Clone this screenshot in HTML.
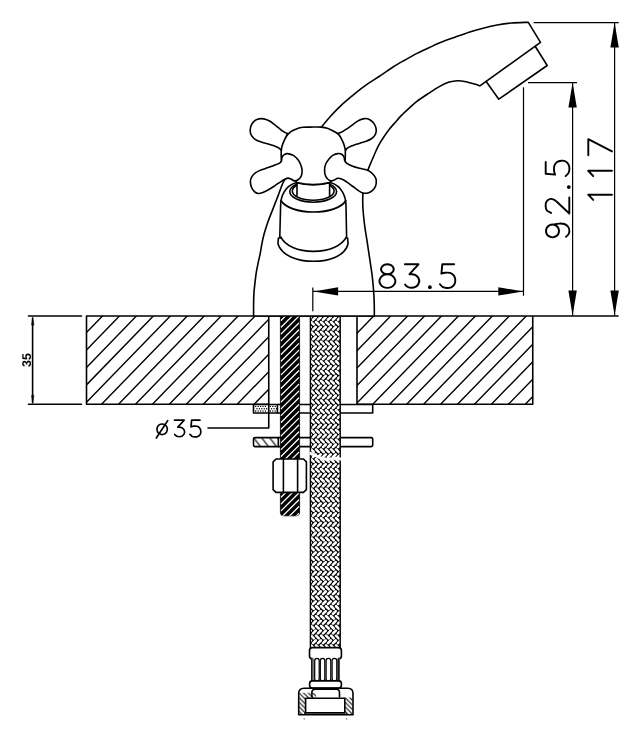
<!DOCTYPE html>
<html><head><meta charset="utf-8"><style>
html,body{margin:0;padding:0;background:#fff;width:641px;height:742px;overflow:hidden}
svg{display:block} text{-webkit-font-smoothing:antialiased;text-rendering:geometricPrecision}
</style></head><body><svg width="641" height="742" viewBox="0 0 641 742"><defs><clipPath id="cL"><rect x="86.5" y="316" width="182.25" height="88.25"/></clipPath><clipPath id="cR"><rect x="357" y="316" width="175.75" height="88.25"/></clipPath><pattern id="rod" patternUnits="userSpaceOnUse" x="280.3" y="316" width="20" height="6.8"><rect width="20" height="6.8" fill="#000"/><path d="M0.9,-2.90L18.4,-20.40M0.9,3.90L18.4,-13.60M0.9,10.70L18.4,-6.80M0.9,17.50L18.4,0.00M0.9,24.30L18.4,6.80M0.9,31.10L18.4,13.60M0.9,37.90L18.4,20.40" stroke="#fff" stroke-width="1.45" stroke-linecap="round"/></pattern><pattern id="hb" patternUnits="userSpaceOnUse" x="310.4" y="316" width="5" height="9.8"><rect width="5" height="9.8" fill="#fff"/><path d="M-15.00,-9.80L-7.65,-2.45M-7.65,-7.35L-15.00,0.00M-15.00,0.00L-7.65,7.35M-7.65,2.45L-15.00,9.80M-15.00,9.80L-7.65,17.15M-7.65,12.25L-15.00,19.60M-10.00,-9.80L-2.65,-2.45M-2.65,-7.35L-10.00,0.00M-10.00,0.00L-2.65,7.35M-2.65,2.45L-10.00,9.80M-10.00,9.80L-2.65,17.15M-2.65,12.25L-10.00,19.60M-5.00,-9.80L2.35,-2.45M2.35,-7.35L-5.00,0.00M-5.00,0.00L2.35,7.35M2.35,2.45L-5.00,9.80M-5.00,9.80L2.35,17.15M2.35,12.25L-5.00,19.60M0.00,-9.80L7.35,-2.45M7.35,-7.35L0.00,0.00M0.00,0.00L7.35,7.35M7.35,2.45L0.00,9.80M0.00,9.80L7.35,17.15M7.35,12.25L0.00,19.60M5.00,-9.80L12.35,-2.45M12.35,-7.35L5.00,0.00M5.00,0.00L12.35,7.35M12.35,2.45L5.00,9.80M5.00,9.80L12.35,17.15M12.35,12.25L5.00,19.60M10.00,-9.80L17.35,-2.45M17.35,-7.35L10.00,0.00M10.00,0.00L17.35,7.35M17.35,2.45L10.00,9.80M10.00,9.80L17.35,17.15M17.35,12.25L10.00,19.60M15.00,-9.80L22.35,-2.45M22.35,-7.35L15.00,0.00M15.00,0.00L22.35,7.35M22.35,2.45L15.00,9.80M15.00,9.80L22.35,17.15M22.35,12.25L15.00,19.60" stroke="#000" stroke-width="1.05"/></pattern><pattern id="dh2" patternUnits="userSpaceOnUse" x="253.5" y="437.5" width="8" height="10.4"><path d="M0,0L8,10.4M-8,0L0,10.4M8,0L16,10.4" stroke="#000" stroke-width="1.1"/></pattern><pattern id="dh3" patternUnits="userSpaceOnUse" x="298.7" y="688" width="4.6" height="4.6"><path d="M-1,-1L5.6,5.6M-1,3.6L1,5.6M3.6,-1L5.6,1" stroke="#000" stroke-width="1.05"/></pattern><pattern id="dh" patternUnits="userSpaceOnUse" width="5" height="5"><path d="M-1,1L1,-1M0,5L5,0M4,6L6,4" stroke="#000" stroke-width="1"/></pattern><pattern id="dots" patternUnits="userSpaceOnUse" x="254.6" y="405.6" width="2.6" height="2.5"><rect width="2.6" height="2.5" fill="#fff"/><circle cx="1.3" cy="1.25" r="0.72" fill="#000"/></pattern></defs><g fill="none" stroke="#000" stroke-width="1.6" stroke-linejoin="round" stroke-linecap="round"><path clip-path="url(#cL)" stroke-width="1.4" d="M-186.50,264.50L-436.50,522.00M-169.55,264.50L-419.55,522.00M-152.60,264.50L-402.60,522.00M-135.65,264.50L-385.65,522.00M-118.70,264.50L-368.70,522.00M-101.75,264.50L-351.75,522.00M-84.80,264.50L-334.80,522.00M-67.85,264.50L-317.85,522.00M-50.90,264.50L-300.90,522.00M-33.95,264.50L-283.95,522.00M-17.00,264.50L-267.00,522.00M-0.05,264.50L-250.05,522.00M16.90,264.50L-233.10,522.00M33.85,264.50L-216.15,522.00M50.80,264.50L-199.20,522.00M67.75,264.50L-182.25,522.00M84.70,264.50L-165.30,522.00M101.65,264.50L-148.35,522.00M118.60,264.50L-131.40,522.00M135.55,264.50L-114.45,522.00M152.50,264.50L-97.50,522.00M169.45,264.50L-80.55,522.00M186.40,264.50L-63.60,522.00M203.35,264.50L-46.65,522.00M220.30,264.50L-29.70,522.00M237.25,264.50L-12.75,522.00M254.20,264.50L4.20,522.00M271.15,264.50L21.15,522.00M288.10,264.50L38.10,522.00M305.05,264.50L55.05,522.00M322.00,264.50L72.00,522.00M338.95,264.50L88.95,522.00M355.90,264.50L105.90,522.00M372.85,264.50L122.85,522.00M389.80,264.50L139.80,522.00M406.75,264.50L156.75,522.00M423.70,264.50L173.70,522.00M440.65,264.50L190.65,522.00M457.60,264.50L207.60,522.00M474.55,264.50L224.55,522.00M491.50,264.50L241.50,522.00M508.45,264.50L258.45,522.00M525.40,264.50L275.40,522.00M542.35,264.50L292.35,522.00M559.30,264.50L309.30,522.00M576.25,264.50L326.25,522.00M593.20,264.50L343.20,522.00M610.15,264.50L360.15,522.00M627.10,264.50L377.10,522.00M644.05,264.50L394.05,522.00M661.00,264.50L411.00,522.00M677.95,264.50L427.95,522.00M694.90,264.50L444.90,522.00M711.85,264.50L461.85,522.00M728.80,264.50L478.80,522.00M745.75,264.50L495.75,522.00M762.70,264.50L512.70,522.00M779.65,264.50L529.65,522.00M796.60,264.50L546.60,522.00M813.55,264.50L563.55,522.00M830.50,264.50L580.50,522.00M847.45,264.50L597.45,522.00M864.40,264.50L614.40,522.00M881.35,264.50L631.35,522.00M898.30,264.50L648.30,522.00M915.25,264.50L665.25,522.00M932.20,264.50L682.20,522.00M949.15,264.50L699.15,522.00M966.10,264.50L716.10,522.00M983.05,264.50L733.05,522.00M1000.00,264.50L750.00,522.00M1016.95,264.50L766.95,522.00M1033.90,264.50L783.90,522.00M1050.85,264.50L800.85,522.00M1067.80,264.50L817.80,522.00M1084.75,264.50L834.75,522.00M1101.70,264.50L851.70,522.00M1118.65,264.50L868.65,522.00M1135.60,264.50L885.60,522.00M1152.55,264.50L902.55,522.00"/><path clip-path="url(#cR)" stroke-width="1.4" d="M-186.50,264.50L-436.50,522.00M-169.55,264.50L-419.55,522.00M-152.60,264.50L-402.60,522.00M-135.65,264.50L-385.65,522.00M-118.70,264.50L-368.70,522.00M-101.75,264.50L-351.75,522.00M-84.80,264.50L-334.80,522.00M-67.85,264.50L-317.85,522.00M-50.90,264.50L-300.90,522.00M-33.95,264.50L-283.95,522.00M-17.00,264.50L-267.00,522.00M-0.05,264.50L-250.05,522.00M16.90,264.50L-233.10,522.00M33.85,264.50L-216.15,522.00M50.80,264.50L-199.20,522.00M67.75,264.50L-182.25,522.00M84.70,264.50L-165.30,522.00M101.65,264.50L-148.35,522.00M118.60,264.50L-131.40,522.00M135.55,264.50L-114.45,522.00M152.50,264.50L-97.50,522.00M169.45,264.50L-80.55,522.00M186.40,264.50L-63.60,522.00M203.35,264.50L-46.65,522.00M220.30,264.50L-29.70,522.00M237.25,264.50L-12.75,522.00M254.20,264.50L4.20,522.00M271.15,264.50L21.15,522.00M288.10,264.50L38.10,522.00M305.05,264.50L55.05,522.00M322.00,264.50L72.00,522.00M338.95,264.50L88.95,522.00M355.90,264.50L105.90,522.00M372.85,264.50L122.85,522.00M389.80,264.50L139.80,522.00M406.75,264.50L156.75,522.00M423.70,264.50L173.70,522.00M440.65,264.50L190.65,522.00M457.60,264.50L207.60,522.00M474.55,264.50L224.55,522.00M491.50,264.50L241.50,522.00M508.45,264.50L258.45,522.00M525.40,264.50L275.40,522.00M542.35,264.50L292.35,522.00M559.30,264.50L309.30,522.00M576.25,264.50L326.25,522.00M593.20,264.50L343.20,522.00M610.15,264.50L360.15,522.00M627.10,264.50L377.10,522.00M644.05,264.50L394.05,522.00M661.00,264.50L411.00,522.00M677.95,264.50L427.95,522.00M694.90,264.50L444.90,522.00M711.85,264.50L461.85,522.00M728.80,264.50L478.80,522.00M745.75,264.50L495.75,522.00M762.70,264.50L512.70,522.00M779.65,264.50L529.65,522.00M796.60,264.50L546.60,522.00M813.55,264.50L563.55,522.00M830.50,264.50L580.50,522.00M847.45,264.50L597.45,522.00M864.40,264.50L614.40,522.00M881.35,264.50L631.35,522.00M898.30,264.50L648.30,522.00M915.25,264.50L665.25,522.00M932.20,264.50L682.20,522.00M949.15,264.50L699.15,522.00M966.10,264.50L716.10,522.00M983.05,264.50L733.05,522.00M1000.00,264.50L750.00,522.00M1016.95,264.50L766.95,522.00M1033.90,264.50L783.90,522.00M1050.85,264.50L800.85,522.00M1067.80,264.50L817.80,522.00M1084.75,264.50L834.75,522.00M1101.70,264.50L851.70,522.00M1118.65,264.50L868.65,522.00M1135.60,264.50L885.60,522.00M1152.55,264.50L902.55,522.00"/><path d="M86.5,316H618M86.5,316V404.3H268.75V316M357,404.3V316M357,404.3H532.75V316"/><path d="M28.5,316H81.5M28.5,404.3H81.5M32.6,318V402.5"/><path d="M32.6,318L31.6,325H33.6Z M32.6,402.5L31.6,395.5H33.6Z" fill="#000" stroke-width="0.6"/><rect x="253.5" y="404.5" width="119.2" height="8.5" fill="#fff"/><path d="M255.00,406.4a0.7,0.7 0 1 0 1.4,0a0.7,0.7 0 1 0 -1.4,0ZM257.44,406.4a0.7,0.7 0 1 0 1.4,0a0.7,0.7 0 1 0 -1.4,0ZM259.88,406.4a0.7,0.7 0 1 0 1.4,0a0.7,0.7 0 1 0 -1.4,0ZM262.32,406.4a0.7,0.7 0 1 0 1.4,0a0.7,0.7 0 1 0 -1.4,0ZM264.76,406.4a0.7,0.7 0 1 0 1.4,0a0.7,0.7 0 1 0 -1.4,0ZM269.64,406.4a0.7,0.7 0 1 0 1.4,0a0.7,0.7 0 1 0 -1.4,0ZM272.08,406.4a0.7,0.7 0 1 0 1.4,0a0.7,0.7 0 1 0 -1.4,0ZM274.52,406.4a0.7,0.7 0 1 0 1.4,0a0.7,0.7 0 1 0 -1.4,0ZM256.22,408.7a0.7,0.7 0 1 0 1.4,0a0.7,0.7 0 1 0 -1.4,0ZM258.66,408.7a0.7,0.7 0 1 0 1.4,0a0.7,0.7 0 1 0 -1.4,0ZM261.10,408.7a0.7,0.7 0 1 0 1.4,0a0.7,0.7 0 1 0 -1.4,0ZM263.54,408.7a0.7,0.7 0 1 0 1.4,0a0.7,0.7 0 1 0 -1.4,0ZM265.98,408.7a0.7,0.7 0 1 0 1.4,0a0.7,0.7 0 1 0 -1.4,0ZM270.86,408.7a0.7,0.7 0 1 0 1.4,0a0.7,0.7 0 1 0 -1.4,0ZM273.30,408.7a0.7,0.7 0 1 0 1.4,0a0.7,0.7 0 1 0 -1.4,0ZM275.74,408.7a0.7,0.7 0 1 0 1.4,0a0.7,0.7 0 1 0 -1.4,0ZM255.00,411.0a0.7,0.7 0 1 0 1.4,0a0.7,0.7 0 1 0 -1.4,0ZM257.44,411.0a0.7,0.7 0 1 0 1.4,0a0.7,0.7 0 1 0 -1.4,0ZM259.88,411.0a0.7,0.7 0 1 0 1.4,0a0.7,0.7 0 1 0 -1.4,0ZM262.32,411.0a0.7,0.7 0 1 0 1.4,0a0.7,0.7 0 1 0 -1.4,0ZM264.76,411.0a0.7,0.7 0 1 0 1.4,0a0.7,0.7 0 1 0 -1.4,0ZM269.64,411.0a0.7,0.7 0 1 0 1.4,0a0.7,0.7 0 1 0 -1.4,0ZM272.08,411.0a0.7,0.7 0 1 0 1.4,0a0.7,0.7 0 1 0 -1.4,0ZM274.52,411.0a0.7,0.7 0 1 0 1.4,0a0.7,0.7 0 1 0 -1.4,0Z" fill="#000" stroke="none"/><path d="M277.4,404.5V413"/><path d="M268.75,404.3V428H208"/><rect x="253.5" y="437.6" width="119.2" height="9" rx="1.5" fill="#fff"/><rect x="253.5" y="437.6" width="25" height="9" fill="url(#dh2)" stroke="none"/><path d="M278.3,437.6V446.6"/></g><clipPath id="rclip"><path d="M280.4,316V512.5Q280.4,515.8 283.8,515.8H296.3Q299.6,515.8 299.6,512.5V316Z"/></clipPath><path d="M280.4,316V512.5Q280.4,515.8 283.8,515.8H296.3Q299.6,515.8 299.6,512.5V316Z" fill="#000" stroke="#000" stroke-width="0.8"/><path clip-path="url(#rclip)" d="M281.3,313.40L298.7,296.00M281.3,320.20L298.7,302.80M281.3,327.00L298.7,309.60M281.3,333.80L298.7,316.40M281.3,340.60L298.7,323.20M281.3,347.40L298.7,330.00M281.3,354.20L298.7,336.80M281.3,361.00L298.7,343.60M281.3,367.80L298.7,350.40M281.3,374.60L298.7,357.20M281.3,381.40L298.7,364.00M281.3,388.20L298.7,370.80M281.3,395.00L298.7,377.60M281.3,401.80L298.7,384.40M281.3,408.60L298.7,391.20M281.3,415.40L298.7,398.00M281.3,422.20L298.7,404.80M281.3,429.00L298.7,411.60M281.3,435.80L298.7,418.40M281.3,442.60L298.7,425.20M281.3,449.40L298.7,432.00M281.3,456.20L298.7,438.80M281.3,463.00L298.7,445.60M281.3,469.80L298.7,452.40M281.3,476.60L298.7,459.20M281.3,483.40L298.7,466.00M281.3,490.20L298.7,472.80M281.3,497.00L298.7,479.60M281.3,503.80L298.7,486.40M281.3,510.60L298.7,493.20M281.3,517.40L298.7,500.00M281.3,524.20L298.7,506.80M281.3,531.00L298.7,513.60M281.3,537.80L298.7,520.40M281.3,544.60L298.7,527.20" stroke="#fff" stroke-width="1.3" stroke-linecap="round" fill="none"/><path d="M276,459H303.5L306.4,461.8V489.6L303.5,492.4H276L273.1,489.6V461.8Z M283.4,459V492.4M297.6,459V492.4" fill="#fff" stroke="#000" stroke-width="1.6" stroke-linejoin="round"/><clipPath id="hclip"><rect x="310.4" y="316" width="29.8" height="332"/></clipPath><rect x="310.4" y="316" width="29.8" height="332" fill="#000"/><path clip-path="url(#hclip)" d="M306.06,312.21l2.69,2.69M311.06,312.21l2.69,2.69M316.06,312.21l2.69,2.69M321.06,312.21l2.69,2.69M326.06,312.21l2.69,2.69M331.06,312.21l2.69,2.69M336.06,312.21l2.69,2.69M341.06,312.21l2.69,2.69M346.06,312.21l2.69,2.69M308.06,319.79l2.69,-2.69M313.06,319.79l2.69,-2.69M318.06,319.79l2.69,-2.69M323.06,319.79l2.69,-2.69M328.06,319.79l2.69,-2.69M333.06,319.79l2.69,-2.69M338.06,319.79l2.69,-2.69M343.06,319.79l2.69,-2.69M348.06,319.79l2.69,-2.69M306.06,322.01l2.69,2.69M311.06,322.01l2.69,2.69M316.06,322.01l2.69,2.69M321.06,322.01l2.69,2.69M326.06,322.01l2.69,2.69M331.06,322.01l2.69,2.69M336.06,322.01l2.69,2.69M341.06,322.01l2.69,2.69M346.06,322.01l2.69,2.69M308.06,329.59l2.69,-2.69M313.06,329.59l2.69,-2.69M318.06,329.59l2.69,-2.69M323.06,329.59l2.69,-2.69M328.06,329.59l2.69,-2.69M333.06,329.59l2.69,-2.69M338.06,329.59l2.69,-2.69M343.06,329.59l2.69,-2.69M348.06,329.59l2.69,-2.69M306.06,331.81l2.69,2.69M311.06,331.81l2.69,2.69M316.06,331.81l2.69,2.69M321.06,331.81l2.69,2.69M326.06,331.81l2.69,2.69M331.06,331.81l2.69,2.69M336.06,331.81l2.69,2.69M341.06,331.81l2.69,2.69M346.06,331.81l2.69,2.69M308.06,339.39l2.69,-2.69M313.06,339.39l2.69,-2.69M318.06,339.39l2.69,-2.69M323.06,339.39l2.69,-2.69M328.06,339.39l2.69,-2.69M333.06,339.39l2.69,-2.69M338.06,339.39l2.69,-2.69M343.06,339.39l2.69,-2.69M348.06,339.39l2.69,-2.69M306.06,341.61l2.69,2.69M311.06,341.61l2.69,2.69M316.06,341.61l2.69,2.69M321.06,341.61l2.69,2.69M326.06,341.61l2.69,2.69M331.06,341.61l2.69,2.69M336.06,341.61l2.69,2.69M341.06,341.61l2.69,2.69M346.06,341.61l2.69,2.69M308.06,349.19l2.69,-2.69M313.06,349.19l2.69,-2.69M318.06,349.19l2.69,-2.69M323.06,349.19l2.69,-2.69M328.06,349.19l2.69,-2.69M333.06,349.19l2.69,-2.69M338.06,349.19l2.69,-2.69M343.06,349.19l2.69,-2.69M348.06,349.19l2.69,-2.69M306.06,351.41l2.69,2.69M311.06,351.41l2.69,2.69M316.06,351.41l2.69,2.69M321.06,351.41l2.69,2.69M326.06,351.41l2.69,2.69M331.06,351.41l2.69,2.69M336.06,351.41l2.69,2.69M341.06,351.41l2.69,2.69M346.06,351.41l2.69,2.69M308.06,358.99l2.69,-2.69M313.06,358.99l2.69,-2.69M318.06,358.99l2.69,-2.69M323.06,358.99l2.69,-2.69M328.06,358.99l2.69,-2.69M333.06,358.99l2.69,-2.69M338.06,358.99l2.69,-2.69M343.06,358.99l2.69,-2.69M348.06,358.99l2.69,-2.69M306.06,361.21l2.69,2.69M311.06,361.21l2.69,2.69M316.06,361.21l2.69,2.69M321.06,361.21l2.69,2.69M326.06,361.21l2.69,2.69M331.06,361.21l2.69,2.69M336.06,361.21l2.69,2.69M341.06,361.21l2.69,2.69M346.06,361.21l2.69,2.69M308.06,368.79l2.69,-2.69M313.06,368.79l2.69,-2.69M318.06,368.79l2.69,-2.69M323.06,368.79l2.69,-2.69M328.06,368.79l2.69,-2.69M333.06,368.79l2.69,-2.69M338.06,368.79l2.69,-2.69M343.06,368.79l2.69,-2.69M348.06,368.79l2.69,-2.69M306.06,371.01l2.69,2.69M311.06,371.01l2.69,2.69M316.06,371.01l2.69,2.69M321.06,371.01l2.69,2.69M326.06,371.01l2.69,2.69M331.06,371.01l2.69,2.69M336.06,371.01l2.69,2.69M341.06,371.01l2.69,2.69M346.06,371.01l2.69,2.69M308.06,378.59l2.69,-2.69M313.06,378.59l2.69,-2.69M318.06,378.59l2.69,-2.69M323.06,378.59l2.69,-2.69M328.06,378.59l2.69,-2.69M333.06,378.59l2.69,-2.69M338.06,378.59l2.69,-2.69M343.06,378.59l2.69,-2.69M348.06,378.59l2.69,-2.69M306.06,380.81l2.69,2.69M311.06,380.81l2.69,2.69M316.06,380.81l2.69,2.69M321.06,380.81l2.69,2.69M326.06,380.81l2.69,2.69M331.06,380.81l2.69,2.69M336.06,380.81l2.69,2.69M341.06,380.81l2.69,2.69M346.06,380.81l2.69,2.69M308.06,388.39l2.69,-2.69M313.06,388.39l2.69,-2.69M318.06,388.39l2.69,-2.69M323.06,388.39l2.69,-2.69M328.06,388.39l2.69,-2.69M333.06,388.39l2.69,-2.69M338.06,388.39l2.69,-2.69M343.06,388.39l2.69,-2.69M348.06,388.39l2.69,-2.69M306.06,390.61l2.69,2.69M311.06,390.61l2.69,2.69M316.06,390.61l2.69,2.69M321.06,390.61l2.69,2.69M326.06,390.61l2.69,2.69M331.06,390.61l2.69,2.69M336.06,390.61l2.69,2.69M341.06,390.61l2.69,2.69M346.06,390.61l2.69,2.69M308.06,398.19l2.69,-2.69M313.06,398.19l2.69,-2.69M318.06,398.19l2.69,-2.69M323.06,398.19l2.69,-2.69M328.06,398.19l2.69,-2.69M333.06,398.19l2.69,-2.69M338.06,398.19l2.69,-2.69M343.06,398.19l2.69,-2.69M348.06,398.19l2.69,-2.69M306.06,400.41l2.69,2.69M311.06,400.41l2.69,2.69M316.06,400.41l2.69,2.69M321.06,400.41l2.69,2.69M326.06,400.41l2.69,2.69M331.06,400.41l2.69,2.69M336.06,400.41l2.69,2.69M341.06,400.41l2.69,2.69M346.06,400.41l2.69,2.69M308.06,407.99l2.69,-2.69M313.06,407.99l2.69,-2.69M318.06,407.99l2.69,-2.69M323.06,407.99l2.69,-2.69M328.06,407.99l2.69,-2.69M333.06,407.99l2.69,-2.69M338.06,407.99l2.69,-2.69M343.06,407.99l2.69,-2.69M348.06,407.99l2.69,-2.69M306.06,410.21l2.69,2.69M311.06,410.21l2.69,2.69M316.06,410.21l2.69,2.69M321.06,410.21l2.69,2.69M326.06,410.21l2.69,2.69M331.06,410.21l2.69,2.69M336.06,410.21l2.69,2.69M341.06,410.21l2.69,2.69M346.06,410.21l2.69,2.69M308.06,417.79l2.69,-2.69M313.06,417.79l2.69,-2.69M318.06,417.79l2.69,-2.69M323.06,417.79l2.69,-2.69M328.06,417.79l2.69,-2.69M333.06,417.79l2.69,-2.69M338.06,417.79l2.69,-2.69M343.06,417.79l2.69,-2.69M348.06,417.79l2.69,-2.69M306.06,420.01l2.69,2.69M311.06,420.01l2.69,2.69M316.06,420.01l2.69,2.69M321.06,420.01l2.69,2.69M326.06,420.01l2.69,2.69M331.06,420.01l2.69,2.69M336.06,420.01l2.69,2.69M341.06,420.01l2.69,2.69M346.06,420.01l2.69,2.69M308.06,427.59l2.69,-2.69M313.06,427.59l2.69,-2.69M318.06,427.59l2.69,-2.69M323.06,427.59l2.69,-2.69M328.06,427.59l2.69,-2.69M333.06,427.59l2.69,-2.69M338.06,427.59l2.69,-2.69M343.06,427.59l2.69,-2.69M348.06,427.59l2.69,-2.69M306.06,429.81l2.69,2.69M311.06,429.81l2.69,2.69M316.06,429.81l2.69,2.69M321.06,429.81l2.69,2.69M326.06,429.81l2.69,2.69M331.06,429.81l2.69,2.69M336.06,429.81l2.69,2.69M341.06,429.81l2.69,2.69M346.06,429.81l2.69,2.69M308.06,437.39l2.69,-2.69M313.06,437.39l2.69,-2.69M318.06,437.39l2.69,-2.69M323.06,437.39l2.69,-2.69M328.06,437.39l2.69,-2.69M333.06,437.39l2.69,-2.69M338.06,437.39l2.69,-2.69M343.06,437.39l2.69,-2.69M348.06,437.39l2.69,-2.69M306.06,439.61l2.69,2.69M311.06,439.61l2.69,2.69M316.06,439.61l2.69,2.69M321.06,439.61l2.69,2.69M326.06,439.61l2.69,2.69M331.06,439.61l2.69,2.69M336.06,439.61l2.69,2.69M341.06,439.61l2.69,2.69M346.06,439.61l2.69,2.69M308.06,447.19l2.69,-2.69M313.06,447.19l2.69,-2.69M318.06,447.19l2.69,-2.69M323.06,447.19l2.69,-2.69M328.06,447.19l2.69,-2.69M333.06,447.19l2.69,-2.69M338.06,447.19l2.69,-2.69M343.06,447.19l2.69,-2.69M348.06,447.19l2.69,-2.69M306.06,449.41l2.69,2.69M311.06,449.41l2.69,2.69M316.06,449.41l2.69,2.69M321.06,449.41l2.69,2.69M326.06,449.41l2.69,2.69M331.06,449.41l2.69,2.69M336.06,449.41l2.69,2.69M341.06,449.41l2.69,2.69M346.06,449.41l2.69,2.69M308.06,456.99l2.69,-2.69M313.06,456.99l2.69,-2.69M318.06,456.99l2.69,-2.69M323.06,456.99l2.69,-2.69M328.06,456.99l2.69,-2.69M333.06,456.99l2.69,-2.69M338.06,456.99l2.69,-2.69M343.06,456.99l2.69,-2.69M348.06,456.99l2.69,-2.69M306.06,459.21l2.69,2.69M311.06,459.21l2.69,2.69M316.06,459.21l2.69,2.69M321.06,459.21l2.69,2.69M326.06,459.21l2.69,2.69M331.06,459.21l2.69,2.69M336.06,459.21l2.69,2.69M341.06,459.21l2.69,2.69M346.06,459.21l2.69,2.69M308.06,466.79l2.69,-2.69M313.06,466.79l2.69,-2.69M318.06,466.79l2.69,-2.69M323.06,466.79l2.69,-2.69M328.06,466.79l2.69,-2.69M333.06,466.79l2.69,-2.69M338.06,466.79l2.69,-2.69M343.06,466.79l2.69,-2.69M348.06,466.79l2.69,-2.69M306.06,469.01l2.69,2.69M311.06,469.01l2.69,2.69M316.06,469.01l2.69,2.69M321.06,469.01l2.69,2.69M326.06,469.01l2.69,2.69M331.06,469.01l2.69,2.69M336.06,469.01l2.69,2.69M341.06,469.01l2.69,2.69M346.06,469.01l2.69,2.69M308.06,476.59l2.69,-2.69M313.06,476.59l2.69,-2.69M318.06,476.59l2.69,-2.69M323.06,476.59l2.69,-2.69M328.06,476.59l2.69,-2.69M333.06,476.59l2.69,-2.69M338.06,476.59l2.69,-2.69M343.06,476.59l2.69,-2.69M348.06,476.59l2.69,-2.69M306.06,478.81l2.69,2.69M311.06,478.81l2.69,2.69M316.06,478.81l2.69,2.69M321.06,478.81l2.69,2.69M326.06,478.81l2.69,2.69M331.06,478.81l2.69,2.69M336.06,478.81l2.69,2.69M341.06,478.81l2.69,2.69M346.06,478.81l2.69,2.69M308.06,486.39l2.69,-2.69M313.06,486.39l2.69,-2.69M318.06,486.39l2.69,-2.69M323.06,486.39l2.69,-2.69M328.06,486.39l2.69,-2.69M333.06,486.39l2.69,-2.69M338.06,486.39l2.69,-2.69M343.06,486.39l2.69,-2.69M348.06,486.39l2.69,-2.69M306.06,488.61l2.69,2.69M311.06,488.61l2.69,2.69M316.06,488.61l2.69,2.69M321.06,488.61l2.69,2.69M326.06,488.61l2.69,2.69M331.06,488.61l2.69,2.69M336.06,488.61l2.69,2.69M341.06,488.61l2.69,2.69M346.06,488.61l2.69,2.69M308.06,496.19l2.69,-2.69M313.06,496.19l2.69,-2.69M318.06,496.19l2.69,-2.69M323.06,496.19l2.69,-2.69M328.06,496.19l2.69,-2.69M333.06,496.19l2.69,-2.69M338.06,496.19l2.69,-2.69M343.06,496.19l2.69,-2.69M348.06,496.19l2.69,-2.69M306.06,498.41l2.69,2.69M311.06,498.41l2.69,2.69M316.06,498.41l2.69,2.69M321.06,498.41l2.69,2.69M326.06,498.41l2.69,2.69M331.06,498.41l2.69,2.69M336.06,498.41l2.69,2.69M341.06,498.41l2.69,2.69M346.06,498.41l2.69,2.69M308.06,505.99l2.69,-2.69M313.06,505.99l2.69,-2.69M318.06,505.99l2.69,-2.69M323.06,505.99l2.69,-2.69M328.06,505.99l2.69,-2.69M333.06,505.99l2.69,-2.69M338.06,505.99l2.69,-2.69M343.06,505.99l2.69,-2.69M348.06,505.99l2.69,-2.69M306.06,508.21l2.69,2.69M311.06,508.21l2.69,2.69M316.06,508.21l2.69,2.69M321.06,508.21l2.69,2.69M326.06,508.21l2.69,2.69M331.06,508.21l2.69,2.69M336.06,508.21l2.69,2.69M341.06,508.21l2.69,2.69M346.06,508.21l2.69,2.69M308.06,515.79l2.69,-2.69M313.06,515.79l2.69,-2.69M318.06,515.79l2.69,-2.69M323.06,515.79l2.69,-2.69M328.06,515.79l2.69,-2.69M333.06,515.79l2.69,-2.69M338.06,515.79l2.69,-2.69M343.06,515.79l2.69,-2.69M348.06,515.79l2.69,-2.69M306.06,518.01l2.69,2.69M311.06,518.01l2.69,2.69M316.06,518.01l2.69,2.69M321.06,518.01l2.69,2.69M326.06,518.01l2.69,2.69M331.06,518.01l2.69,2.69M336.06,518.01l2.69,2.69M341.06,518.01l2.69,2.69M346.06,518.01l2.69,2.69M308.06,525.59l2.69,-2.69M313.06,525.59l2.69,-2.69M318.06,525.59l2.69,-2.69M323.06,525.59l2.69,-2.69M328.06,525.59l2.69,-2.69M333.06,525.59l2.69,-2.69M338.06,525.59l2.69,-2.69M343.06,525.59l2.69,-2.69M348.06,525.59l2.69,-2.69M306.06,527.81l2.69,2.69M311.06,527.81l2.69,2.69M316.06,527.81l2.69,2.69M321.06,527.81l2.69,2.69M326.06,527.81l2.69,2.69M331.06,527.81l2.69,2.69M336.06,527.81l2.69,2.69M341.06,527.81l2.69,2.69M346.06,527.81l2.69,2.69M308.06,535.39l2.69,-2.69M313.06,535.39l2.69,-2.69M318.06,535.39l2.69,-2.69M323.06,535.39l2.69,-2.69M328.06,535.39l2.69,-2.69M333.06,535.39l2.69,-2.69M338.06,535.39l2.69,-2.69M343.06,535.39l2.69,-2.69M348.06,535.39l2.69,-2.69M306.06,537.61l2.69,2.69M311.06,537.61l2.69,2.69M316.06,537.61l2.69,2.69M321.06,537.61l2.69,2.69M326.06,537.61l2.69,2.69M331.06,537.61l2.69,2.69M336.06,537.61l2.69,2.69M341.06,537.61l2.69,2.69M346.06,537.61l2.69,2.69M308.06,545.19l2.69,-2.69M313.06,545.19l2.69,-2.69M318.06,545.19l2.69,-2.69M323.06,545.19l2.69,-2.69M328.06,545.19l2.69,-2.69M333.06,545.19l2.69,-2.69M338.06,545.19l2.69,-2.69M343.06,545.19l2.69,-2.69M348.06,545.19l2.69,-2.69M306.06,547.41l2.69,2.69M311.06,547.41l2.69,2.69M316.06,547.41l2.69,2.69M321.06,547.41l2.69,2.69M326.06,547.41l2.69,2.69M331.06,547.41l2.69,2.69M336.06,547.41l2.69,2.69M341.06,547.41l2.69,2.69M346.06,547.41l2.69,2.69M308.06,554.99l2.69,-2.69M313.06,554.99l2.69,-2.69M318.06,554.99l2.69,-2.69M323.06,554.99l2.69,-2.69M328.06,554.99l2.69,-2.69M333.06,554.99l2.69,-2.69M338.06,554.99l2.69,-2.69M343.06,554.99l2.69,-2.69M348.06,554.99l2.69,-2.69M306.06,557.21l2.69,2.69M311.06,557.21l2.69,2.69M316.06,557.21l2.69,2.69M321.06,557.21l2.69,2.69M326.06,557.21l2.69,2.69M331.06,557.21l2.69,2.69M336.06,557.21l2.69,2.69M341.06,557.21l2.69,2.69M346.06,557.21l2.69,2.69M308.06,564.79l2.69,-2.69M313.06,564.79l2.69,-2.69M318.06,564.79l2.69,-2.69M323.06,564.79l2.69,-2.69M328.06,564.79l2.69,-2.69M333.06,564.79l2.69,-2.69M338.06,564.79l2.69,-2.69M343.06,564.79l2.69,-2.69M348.06,564.79l2.69,-2.69M306.06,567.01l2.69,2.69M311.06,567.01l2.69,2.69M316.06,567.01l2.69,2.69M321.06,567.01l2.69,2.69M326.06,567.01l2.69,2.69M331.06,567.01l2.69,2.69M336.06,567.01l2.69,2.69M341.06,567.01l2.69,2.69M346.06,567.01l2.69,2.69M308.06,574.59l2.69,-2.69M313.06,574.59l2.69,-2.69M318.06,574.59l2.69,-2.69M323.06,574.59l2.69,-2.69M328.06,574.59l2.69,-2.69M333.06,574.59l2.69,-2.69M338.06,574.59l2.69,-2.69M343.06,574.59l2.69,-2.69M348.06,574.59l2.69,-2.69M306.06,576.81l2.69,2.69M311.06,576.81l2.69,2.69M316.06,576.81l2.69,2.69M321.06,576.81l2.69,2.69M326.06,576.81l2.69,2.69M331.06,576.81l2.69,2.69M336.06,576.81l2.69,2.69M341.06,576.81l2.69,2.69M346.06,576.81l2.69,2.69M308.06,584.39l2.69,-2.69M313.06,584.39l2.69,-2.69M318.06,584.39l2.69,-2.69M323.06,584.39l2.69,-2.69M328.06,584.39l2.69,-2.69M333.06,584.39l2.69,-2.69M338.06,584.39l2.69,-2.69M343.06,584.39l2.69,-2.69M348.06,584.39l2.69,-2.69M306.06,586.61l2.69,2.69M311.06,586.61l2.69,2.69M316.06,586.61l2.69,2.69M321.06,586.61l2.69,2.69M326.06,586.61l2.69,2.69M331.06,586.61l2.69,2.69M336.06,586.61l2.69,2.69M341.06,586.61l2.69,2.69M346.06,586.61l2.69,2.69M308.06,594.19l2.69,-2.69M313.06,594.19l2.69,-2.69M318.06,594.19l2.69,-2.69M323.06,594.19l2.69,-2.69M328.06,594.19l2.69,-2.69M333.06,594.19l2.69,-2.69M338.06,594.19l2.69,-2.69M343.06,594.19l2.69,-2.69M348.06,594.19l2.69,-2.69M306.06,596.41l2.69,2.69M311.06,596.41l2.69,2.69M316.06,596.41l2.69,2.69M321.06,596.41l2.69,2.69M326.06,596.41l2.69,2.69M331.06,596.41l2.69,2.69M336.06,596.41l2.69,2.69M341.06,596.41l2.69,2.69M346.06,596.41l2.69,2.69M308.06,603.99l2.69,-2.69M313.06,603.99l2.69,-2.69M318.06,603.99l2.69,-2.69M323.06,603.99l2.69,-2.69M328.06,603.99l2.69,-2.69M333.06,603.99l2.69,-2.69M338.06,603.99l2.69,-2.69M343.06,603.99l2.69,-2.69M348.06,603.99l2.69,-2.69M306.06,606.21l2.69,2.69M311.06,606.21l2.69,2.69M316.06,606.21l2.69,2.69M321.06,606.21l2.69,2.69M326.06,606.21l2.69,2.69M331.06,606.21l2.69,2.69M336.06,606.21l2.69,2.69M341.06,606.21l2.69,2.69M346.06,606.21l2.69,2.69M308.06,613.79l2.69,-2.69M313.06,613.79l2.69,-2.69M318.06,613.79l2.69,-2.69M323.06,613.79l2.69,-2.69M328.06,613.79l2.69,-2.69M333.06,613.79l2.69,-2.69M338.06,613.79l2.69,-2.69M343.06,613.79l2.69,-2.69M348.06,613.79l2.69,-2.69M306.06,616.01l2.69,2.69M311.06,616.01l2.69,2.69M316.06,616.01l2.69,2.69M321.06,616.01l2.69,2.69M326.06,616.01l2.69,2.69M331.06,616.01l2.69,2.69M336.06,616.01l2.69,2.69M341.06,616.01l2.69,2.69M346.06,616.01l2.69,2.69M308.06,623.59l2.69,-2.69M313.06,623.59l2.69,-2.69M318.06,623.59l2.69,-2.69M323.06,623.59l2.69,-2.69M328.06,623.59l2.69,-2.69M333.06,623.59l2.69,-2.69M338.06,623.59l2.69,-2.69M343.06,623.59l2.69,-2.69M348.06,623.59l2.69,-2.69M306.06,625.81l2.69,2.69M311.06,625.81l2.69,2.69M316.06,625.81l2.69,2.69M321.06,625.81l2.69,2.69M326.06,625.81l2.69,2.69M331.06,625.81l2.69,2.69M336.06,625.81l2.69,2.69M341.06,625.81l2.69,2.69M346.06,625.81l2.69,2.69M308.06,633.39l2.69,-2.69M313.06,633.39l2.69,-2.69M318.06,633.39l2.69,-2.69M323.06,633.39l2.69,-2.69M328.06,633.39l2.69,-2.69M333.06,633.39l2.69,-2.69M338.06,633.39l2.69,-2.69M343.06,633.39l2.69,-2.69M348.06,633.39l2.69,-2.69M306.06,635.61l2.69,2.69M311.06,635.61l2.69,2.69M316.06,635.61l2.69,2.69M321.06,635.61l2.69,2.69M326.06,635.61l2.69,2.69M331.06,635.61l2.69,2.69M336.06,635.61l2.69,2.69M341.06,635.61l2.69,2.69M346.06,635.61l2.69,2.69M308.06,643.19l2.69,-2.69M313.06,643.19l2.69,-2.69M318.06,643.19l2.69,-2.69M323.06,643.19l2.69,-2.69M328.06,643.19l2.69,-2.69M333.06,643.19l2.69,-2.69M338.06,643.19l2.69,-2.69M343.06,643.19l2.69,-2.69M348.06,643.19l2.69,-2.69M306.06,645.41l2.69,2.69M311.06,645.41l2.69,2.69M316.06,645.41l2.69,2.69M321.06,645.41l2.69,2.69M326.06,645.41l2.69,2.69M331.06,645.41l2.69,2.69M336.06,645.41l2.69,2.69M341.06,645.41l2.69,2.69M346.06,645.41l2.69,2.69M308.06,652.99l2.69,-2.69M313.06,652.99l2.69,-2.69M318.06,652.99l2.69,-2.69M323.06,652.99l2.69,-2.69M328.06,652.99l2.69,-2.69M333.06,652.99l2.69,-2.69M338.06,652.99l2.69,-2.69M343.06,652.99l2.69,-2.69M348.06,652.99l2.69,-2.69" stroke="#fff" stroke-width="2.6" stroke-linecap="round" fill="none"/><rect x="310.4" y="316" width="29.8" height="332" fill="none" stroke="#000" stroke-width="1.4"/><path d="M309.50,453.00C310.32,453.33 312.87,454.30 314.40,455.00C315.93,455.70 317.15,456.57 318.70,457.20C320.25,457.83 322.03,458.47 323.70,458.80C325.37,459.13 327.13,459.25 328.70,459.20C330.27,459.15 331.80,458.67 333.10,458.50C334.40,458.33 335.18,458.07 336.50,458.20C337.82,458.33 340.25,459.12 341.00,459.30" fill="none" stroke="#fff" stroke-width="3"/><g fill="#fff" stroke="#000" stroke-width="1.6" stroke-linejoin="round"><rect x="309.5" y="647.6" width="31.9" height="11.3" rx="3"/><rect x="311.2" y="657.8" width="28.6" height="23.6" fill="#fff" stroke="none"/><path d="M311.9,657.8V681.4M338.9,657.8V681.4" stroke-width="1.6"/><path d="M313.4,658.5V680.8M337.4,658.5V680.8" stroke-width="1.2" stroke="#777"/><rect x="314.7" y="658.4" width="4.50" height="22.6" rx="2.25" fill="#fff" stroke-width="1.25"/><rect x="320.3" y="658.4" width="4.50" height="22.6" rx="2.25" fill="#fff" stroke-width="1.25"/><rect x="326.09999999999997" y="658.4" width="4.70" height="22.6" rx="2.35" fill="#fff" stroke-width="1.25"/><rect x="332.09999999999997" y="658.4" width="4.70" height="22.6" rx="2.35" fill="#fff" stroke-width="1.25"/><path d="M309.6,683.5Q309.6,680.9 312.5,680.9H338.5Q341.4,680.9 341.4,683.5V685.6Q341.4,688 338.5,688H312.5Q309.6,688 309.6,685.6Z"/><path d="M298.7,714.8V693.6Q298.7,688.3 304,688.3H347.7Q353,688.3 353,693.6V714.8Z"/><path d="M299.2,692.8H316V698.2H305.6V714.3H299.2Z M344.8,697.4H352.5V714.3H344.8Z" fill="url(#dh3)" stroke="none"/><path d="M311.9,697.6V692.5Q311.9,689.3 315.5,689.3H336Q339.5,689.3 339.5,692.5V697.6" fill="none"/><rect x="305.6" y="698.2" width="39.2" height="14.7"/><path d="M304.7,712.9V714.8M346.3,712.9V714.8" fill="none" stroke-width="1"/><path d="M304.2,718V719.8M346.7,718V719.8" fill="none" stroke-width="0.7" stroke="#555"/></g><g fill="#fff" stroke="#000" stroke-width="1.6" stroke-linejoin="round" stroke-linecap="round"><path d="M253.60,316.00C253.60,313.93 253.55,307.35 253.60,303.60C253.65,299.85 253.68,296.87 253.90,293.50C254.12,290.13 254.50,286.93 254.90,283.40C255.30,279.87 255.73,275.83 256.30,272.30C256.87,268.77 257.63,265.40 258.30,262.20C258.97,259.00 259.77,255.80 260.30,253.10C260.83,250.40 261.02,248.60 261.50,246.00C261.98,243.40 262.52,240.32 263.20,237.50C263.88,234.68 264.73,231.92 265.60,229.10C266.47,226.28 267.38,223.43 268.40,220.60C269.42,217.77 270.60,214.93 271.70,212.10C272.80,209.27 273.90,206.43 275.00,203.60C276.10,200.77 277.28,197.78 278.30,195.10C279.32,192.42 280.15,189.87 281.10,187.50C282.05,185.13 282.85,182.82 284.00,180.90C285.15,178.98 287.33,176.82 288.00,176.00L321.3,127.2C322.83,125.37 326.88,120.12 330.50,116.20C334.12,112.28 338.83,107.55 343.00,103.70C347.17,99.85 351.33,96.43 355.50,93.10C359.67,89.77 363.85,86.62 368.00,83.70C372.15,80.78 376.28,78.35 380.40,75.60C384.52,72.85 388.60,69.80 392.70,67.20C396.80,64.60 400.87,62.35 405.00,60.00C409.13,57.65 413.35,55.22 417.50,53.10C421.65,50.98 425.75,49.18 429.90,47.30C434.05,45.42 438.22,43.48 442.40,41.80C446.58,40.12 450.57,38.80 455.00,37.20C459.43,35.60 464.32,33.70 469.00,32.20C473.68,30.70 478.42,29.40 483.10,28.20C487.78,27.00 492.42,25.87 497.10,25.00C501.78,24.13 506.00,23.45 511.20,23.00C516.40,22.55 525.45,22.42 528.30,22.30L540.5,42.4L479.9,85.9C478.98,85.60 476.72,84.80 474.40,84.10C472.08,83.40 468.80,82.27 466.00,81.70C463.20,81.13 460.40,80.63 457.60,80.70C454.80,80.77 452.25,81.12 449.20,82.10C446.15,83.08 442.82,84.67 439.30,86.60C435.78,88.53 431.83,91.23 428.10,93.70C424.37,96.17 420.00,99.05 416.90,101.40C413.80,103.75 412.12,105.43 409.50,107.80C406.88,110.17 403.55,113.20 401.20,115.60C398.85,118.00 397.38,119.92 395.40,122.20C393.42,124.48 391.17,126.93 389.30,129.30C387.43,131.67 385.80,134.05 384.20,136.40C382.60,138.75 381.03,141.05 379.70,143.40C378.37,145.75 377.30,148.13 376.20,150.50C375.10,152.87 374.12,155.25 373.10,157.60C372.08,159.95 370.93,162.58 370.10,164.60C369.27,166.62 368.85,167.47 368.10,169.70C367.35,171.93 366.32,175.28 365.60,178.00C364.88,180.72 364.25,183.42 363.80,186.00C363.35,188.58 363.05,189.92 362.90,193.50C362.75,197.08 362.62,202.23 362.90,207.50C363.18,212.77 363.87,219.25 364.60,225.10C365.33,230.95 366.42,236.75 367.30,242.60C368.18,248.45 369.05,254.35 369.90,260.20C370.75,266.05 371.73,271.85 372.40,277.70C373.07,283.55 373.58,290.25 373.90,295.30C374.22,300.35 374.23,304.55 374.30,308.00C374.37,311.45 374.30,314.67 374.30,316.00Z"/><path fill="none" d="M486.2,81.5L498.8,99.2L547.2,65.5L535.3,46.5"/><path d="M278.4,238 Q278,243 278,244 C282,256 298,261.3 313.5,261.3 C329,261.3 345,256 348,244 Q348,243 347.6,238 Z"/><path d="M279.8,236.7 L280.6,206 C280.6,196 285,186 296,182.8 L331,182.8 C341.5,186 346,196 346,206 L346.6,236.7 C342,246 329,251.4 313.5,251.4 C298,251.4 285,246 280.6,236.7 Z"/><path fill="none" d="M281,200.5 C285,207.5 298,212 313.5,212 C329,212 342,207.5 345.8,200.5"/><ellipse cx="313.2" cy="191.6" rx="23.4" ry="10.6"/><ellipse cx="313.2" cy="191.0" rx="20.9" ry="9.3"/><path d="M297,191 V182.6 Q313,186.6 329.6,182.6 V191 Z" fill="#fff" stroke="none"/><path fill="none" d="M297,195.6 V182.6 Q313,186.6 329.6,182.6 V195.6"/></g><g fill="#fff" stroke="#000" stroke-width="1.6" stroke-linejoin="round" stroke-linecap="round"><path d="M287.50,133.50C287.05,133.32 285.77,132.93 284.80,132.40C283.83,131.87 282.87,131.17 281.70,130.30C280.53,129.43 279.10,128.23 277.80,127.20C276.50,126.17 275.20,125.10 273.90,124.10C272.60,123.10 271.30,121.98 270.00,121.20C268.70,120.42 267.53,119.83 266.10,119.40C264.67,118.97 262.83,118.63 261.40,118.60C259.97,118.57 258.73,118.73 257.50,119.20C256.27,119.67 255.05,120.38 254.00,121.40C252.95,122.42 251.82,124.00 251.20,125.30C250.58,126.60 250.42,127.90 250.30,129.20C250.18,130.50 250.22,131.93 250.50,133.10C250.78,134.27 251.23,135.17 252.00,136.20C252.77,137.23 253.80,138.40 255.10,139.30C256.40,140.20 258.10,140.95 259.80,141.60C261.50,142.25 263.48,142.67 265.30,143.20C267.12,143.73 268.88,144.22 270.70,144.80C272.52,145.38 274.77,146.12 276.20,146.70C277.63,147.28 278.50,147.72 279.30,148.30C280.10,148.88 280.72,149.88 281.00,150.20Z"/><path d="M337.70,133.50C338.28,133.30 339.97,132.90 341.20,132.30C342.43,131.70 343.67,130.82 345.10,129.90C346.53,128.98 348.23,127.90 349.80,126.80C351.37,125.70 352.93,124.40 354.50,123.30C356.07,122.20 357.52,120.98 359.20,120.20C360.88,119.42 362.92,118.73 364.60,118.60C366.28,118.47 367.87,118.75 369.30,119.40C370.73,120.05 372.15,121.27 373.20,122.50C374.25,123.73 375.10,125.37 375.60,126.80C376.10,128.23 376.33,129.67 376.20,131.10C376.07,132.53 375.55,134.17 374.80,135.40C374.05,136.63 373.13,137.52 371.70,138.50C370.27,139.48 368.15,140.52 366.20,141.30C364.25,142.08 362.08,142.55 360.00,143.20C357.92,143.85 355.53,144.55 353.70,145.20C351.87,145.85 350.23,146.45 349.00,147.10C347.77,147.75 346.88,148.45 346.30,149.10C345.72,149.75 345.63,150.68 345.50,151.00Z"/><path d="M281.30,160.00C281.28,158.83 281.15,155.00 281.20,153.00C281.25,151.00 281.25,149.73 281.60,148.00C281.95,146.27 282.47,144.60 283.30,142.60C284.13,140.60 285.33,137.82 286.60,136.00C287.87,134.18 289.27,132.88 290.90,131.70C292.53,130.52 294.40,129.63 296.40,128.90C298.40,128.17 300.53,127.60 302.90,127.30C305.27,127.00 307.58,127.13 310.60,127.10C313.62,127.07 318.10,126.88 321.00,127.10C323.90,127.32 325.73,127.63 328.00,128.40C330.27,129.17 332.77,130.62 334.60,131.70C336.43,132.78 337.73,133.45 339.00,134.90C340.27,136.35 341.30,138.57 342.20,140.40C343.10,142.23 343.88,144.13 344.40,145.90C344.92,147.67 345.17,148.65 345.30,151.00C345.43,153.35 345.22,158.50 345.20,160.00L329.6,182.6Q313,186.6 297,182.6Z"/><path d="M287.60,153.60C289.17,153.75 291.90,154.48 293.70,155.60C295.50,156.72 297.15,158.58 298.40,160.30C299.65,162.02 300.58,164.03 301.20,165.90C301.82,167.77 302.10,169.78 302.10,171.50C302.10,173.22 301.82,174.87 301.20,176.20C300.58,177.53 299.50,178.72 298.40,179.50C297.30,180.28 295.85,180.98 294.60,180.90C293.35,180.82 291.98,179.47 290.90,179.00C289.82,178.53 289.03,178.10 288.10,178.10C287.17,178.10 286.55,178.38 285.30,179.00C284.05,179.62 282.32,180.70 280.60,181.80C278.88,182.90 277.03,184.27 275.00,185.60C272.97,186.93 270.43,188.63 268.40,189.80C266.37,190.97 264.52,191.98 262.80,192.60C261.08,193.22 259.50,193.65 258.10,193.50C256.70,193.35 255.48,192.70 254.40,191.70C253.32,190.70 252.27,189.15 251.60,187.50C250.93,185.85 250.40,183.52 250.40,181.80C250.40,180.08 250.78,178.68 251.60,177.20C252.42,175.72 253.75,174.08 255.30,172.90C256.85,171.72 258.87,170.95 260.90,170.10C262.93,169.25 265.32,168.58 267.50,167.80C269.68,167.02 271.98,166.18 274.00,165.40C276.02,164.62 278.35,163.87 279.60,163.10C280.85,162.33 281.10,161.73 281.50,160.80C281.90,159.87 281.53,158.52 282.00,157.50C282.47,156.48 283.37,155.35 284.30,154.70C285.23,154.05 286.03,153.45 287.60,153.60Z"/><path d="M337.90,153.60C339.32,153.45 340.68,153.63 341.70,154.20C342.72,154.77 343.47,155.83 344.00,157.00C344.53,158.17 344.35,160.10 344.90,161.20C345.45,162.30 346.12,162.82 347.30,163.60C348.48,164.38 349.97,165.12 352.00,165.90C354.03,166.68 357.02,167.60 359.50,168.30C361.98,169.00 364.88,169.33 366.90,170.10C368.92,170.87 370.27,171.80 371.60,172.90C372.93,174.00 374.12,175.37 374.90,176.70C375.68,178.03 376.22,179.27 376.30,180.90C376.38,182.53 376.02,184.93 375.40,186.50C374.78,188.07 373.85,189.23 372.60,190.30C371.35,191.37 369.47,192.43 367.90,192.90C366.33,193.37 364.77,193.47 363.20,193.10C361.63,192.73 360.22,191.80 358.50,190.70C356.78,189.60 354.77,187.90 352.90,186.50C351.03,185.10 349.02,183.47 347.30,182.30C345.58,181.13 344.17,180.17 342.60,179.50C341.03,178.83 339.30,178.22 337.90,178.30C336.50,178.38 335.28,179.57 334.20,180.00C333.12,180.43 332.50,181.07 331.40,180.90C330.30,180.73 328.62,179.93 327.60,179.00C326.58,178.07 325.80,176.85 325.30,175.30C324.80,173.75 324.53,171.58 324.60,169.70C324.67,167.82 324.97,165.80 325.70,164.00C326.43,162.20 327.75,160.38 329.00,158.90C330.25,157.42 331.72,155.98 333.20,155.10C334.68,154.22 336.48,153.75 337.90,153.60Z"/></g><g fill="none" stroke="#000" stroke-width="1.2"><path d="M533.5,22.6H618.7M528,82.6H577M614.6,22.6V315.5M572.6,82.6V315.5M523.5,87.3V295.8M312.8,287.6V311.2M312.8,291.4H523.5"/></g><g fill="#000" stroke="none"><path d="M614.6,22.6L618.80,47.60L610.40,47.60Z"/><path d="M614.6,315.5L610.40,290.50L618.80,290.50Z"/><path d="M572.6,82.6L576.80,107.60L568.40,107.60Z"/><path d="M572.6,315.5L568.40,290.50L576.80,290.50Z"/><path d="M313.6,291.4L338.10,287.20L338.10,295.60Z"/><path d="M523.3,291.4L498.30,295.60L498.30,287.20Z"/></g><g fill="none" stroke="#000" stroke-width="1.9" stroke-linecap="round" stroke-linejoin="round"><g transform="translate(378.3,263.3)"><path d="M9.1,1A6.3,5 0 1 1 9.09,1ZM9.1,11A7.9,6.8 0 1 1 9.09,11Z"/><path transform="translate(24.6,0)" d="M2,1H15.6L6.6,10.9H8.8A7.6,6.8 0 1 1 2.2,21.2"/><path transform="translate(59.4,0)" d="M16.4,1H4.6L3.7,10.4C4.28,10.23 5.75,9.53 7.20,9.40C8.65,9.27 10.90,9.12 12.40,9.60C13.90,10.08 15.33,11.13 16.20,12.30C17.07,13.47 17.50,15.15 17.60,16.60C17.70,18.05 17.50,19.77 16.80,21.00C16.10,22.23 14.72,23.38 13.40,24.00C12.08,24.62 10.32,24.77 8.90,24.70C7.48,24.63 6.02,24.23 4.90,23.60C3.78,22.97 2.65,21.35 2.20,20.90"/></g><g transform="translate(544.7,238.6) rotate(-90)"><path d="M7.7,1.3A6.4,6.5 0 1 1 7.69,1.3ZM14.1,9.5C14.25,10.33 14.92,12.82 15.00,14.50C15.08,16.18 15.12,18.12 14.60,19.60C14.08,21.08 13.03,22.55 11.90,23.40C10.77,24.25 9.08,24.65 7.80,24.70C6.52,24.75 5.20,24.27 4.20,23.70C3.20,23.13 2.20,21.70 1.80,21.30"/><path transform="translate(24.2,0)" d="M1.5,6.3C1.90,5.62 2.72,3.10 3.90,2.20C5.08,1.30 7.05,0.93 8.60,0.90C10.15,0.87 12.05,1.18 13.20,2.00C14.35,2.82 15.27,4.53 15.50,5.80C15.73,7.07 15.08,8.55 14.60,9.60C14.12,10.65 12.93,11.68 12.60,12.10L0.9,24.6H17"/><path transform="translate(60.3,0)" d="M16.4,1H4.6L3.7,10.4C4.28,10.23 5.75,9.53 7.20,9.40C8.65,9.27 10.90,9.12 12.40,9.60C13.90,10.08 15.33,11.13 16.20,12.30C17.07,13.47 17.50,15.15 17.60,16.60C17.70,18.05 17.50,19.77 16.80,21.00C16.10,22.23 14.72,23.38 13.40,24.00C12.08,24.62 10.32,24.77 8.90,24.70C7.48,24.63 6.02,24.23 4.90,23.60C3.78,22.97 2.65,21.35 2.20,20.90"/></g><g transform="translate(587.3,201) rotate(-90)"><path transform="translate(0.9,0)" d="M5.4,0.9V24.7M5.4,0.9L0.2,5.9"/><path transform="translate(24.8,0)" d="M5.4,0.9V24.7M5.4,0.9L0.2,5.9"/><path transform="translate(45.7,0)" d="M0,1H16.1L3.9,24.7"/></g><g transform="translate(155.6,419.5) scale(0.705)" stroke-width="2.4"><path d="M9.28,6.4A7.5,7.5 0 1 1 9.27,6.4ZM1,26.2L17.2,1.6"/><path transform="translate(24.9,0)" d="M2,1H15.6L6.6,10.9H8.8A7.6,6.8 0 1 1 2.2,21.2"/><path transform="translate(46.5,0)" d="M16.4,1H4.6L3.7,10.4C4.28,10.23 5.75,9.53 7.20,9.40C8.65,9.27 10.90,9.12 12.40,9.60C13.90,10.08 15.33,11.13 16.20,12.30C17.07,13.47 17.50,15.15 17.60,16.60C17.70,18.05 17.50,19.77 16.80,21.00C16.10,22.23 14.72,23.38 13.40,24.00C12.08,24.62 10.32,24.77 8.90,24.70C7.48,24.63 6.02,24.23 4.90,23.60C3.78,22.97 2.65,21.35 2.20,20.90"/></g></g><g fill="#000"><path d="M428.00,287.2a1.9,1.9 0 1 0 3.8,0a1.9,1.9 0 1 0 -3.8,0Z"/><circle cx="568.8" cy="187.1" r="1.9"/></g><g transform="translate(30.9,367) rotate(-90) scale(0.006104,-0.006104)" fill="#000"><path d="M1065 391Q1065 193 935.0 85.0Q805 -23 565 -23Q338 -23 204.0 81.5Q70 186 47 383L333 408Q360 205 564 205Q665 205 721.0 255.0Q777 305 777 408Q777 502 709.0 552.0Q641 602 507 602H409V829H501Q622 829 683.0 878.5Q744 928 744 1020Q744 1107 695.5 1156.5Q647 1206 554 1206Q467 1206 413.5 1158.0Q360 1110 352 1022L71 1042Q93 1224 222.0 1327.0Q351 1430 559 1430Q780 1430 904.5 1330.5Q1029 1231 1029 1055Q1029 923 951.5 838.0Q874 753 728 725V721Q890 702 977.5 614.5Q1065 527 1065 391Z"/><path transform="translate(1139,0)" d="M1082 469Q1082 245 942.5 112.5Q803 -20 560 -20Q348 -20 220.5 75.5Q93 171 63 352L344 375Q366 285 422.0 244.0Q478 203 563 203Q668 203 730.5 270.0Q793 337 793 463Q793 574 734.0 640.5Q675 707 569 707Q452 707 378 616H104L153 1409H1000V1200H408L385 844Q487 934 640 934Q841 934 961.5 809.0Q1082 684 1082 469Z"/></g></svg></body></html>
